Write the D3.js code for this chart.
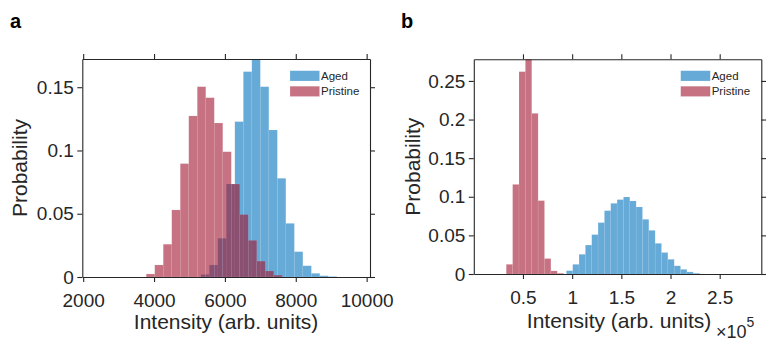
<!DOCTYPE html>
<html><head><meta charset="utf-8">
<script src="https://cdn.jsdelivr.net/npm/d3@7"></script>
<style>
body{margin:0;background:#fff;}
svg{display:block;font-family:"Liberation Sans",Arial,Helvetica,sans-serif;}
</style>
</head><body>
<svg id="chart" width="766" height="341"></svg>
<script>
// ---------- data ----------
const seriesNames = ["Aged", "Pristine"];

// Panel a : probability per bin
const agedAStart = 5320, agedABin = 240;
const agedA = [0.002, 0.0095, 0.0306, 0.0735, 0.1228, 0.1623, 0.1723, 0.1504,
               0.1162, 0.078, 0.0424, 0.02, 0.0089, 0.0029, 0.001, 0.0004];
const pristineAStart = 3780, pristineABin = 240;
const pristineA = [0.0024, 0.0095, 0.0259, 0.053, 0.0896, 0.1273, 0.1504, 0.1417,
                   0.1217, 0.099, 0.0735, 0.0494, 0.029, 0.0126, 0.0048, 0.0015];
const xTicksA = [2000, 4000, 6000, 8000, 10000];
const yTicksA = [0, 0.05, 0.1, 0.15];
const yTickLabelsA = ["0", "0.05", "0.1", "0.15"];

// Panel b
const agedBStart = 94100, agedBBin = 6450;
const agedB = [0.0043, 0.0125, 0.0255, 0.0375, 0.051, 0.0665, 0.082, 0.0915, 0.0963,
               0.0997, 0.0946, 0.0868, 0.0708, 0.0565, 0.0397, 0.0278, 0.019, 0.0106,
               0.006, 0.0027, 0.001];
const pristineBStart = 33000, pristineBBin = 6480;
const pristineB = [0.0125, 0.116, 0.262, 0.278, 0.208, 0.095, 0.020, 0.004, 0.001];
const xTicksB = [50000, 100000, 150000, 200000, 250000];
const xTickLabelsB = ["0.5", "1", "1.5", "2", "2.5"];
const yTicksB = [0, 0.05, 0.1, 0.15, 0.2, 0.25];
const yTickLabelsB = ["0", "0.05", "0.1", "0.15", "0.2", "0.25"];

// ---------- styles ----------
const colors = {Aged: "rgb(0,114,189)", Pristine: "rgb(162,20,47)"};
const ink = "#262626";

const svg = d3.select("#chart");

function toBins(start, w, vals) {
  return vals.map((v, i) => ({x0: start + i * w, x1: start + (i + 1) * w, p: v}));
}

const panels = [
  {
    letter: "a", letterX: 10,
    box: {l: 82.3, r: 370, t: 59, b: 277},
    xDomain: [1975, 10095], yDomain: [0, 0.1723],
    series: [
      {name: "Aged", bins: toBins(agedAStart, agedABin, agedA)},
      {name: "Pristine", bins: toBins(pristineAStart, pristineABin, pristineA)}
    ],
    xTicks: xTicksA, xFmt: d => String(d),
    yTicks: yTicksA, yFmt: (d, i) => yTickLabelsA[i],
    xLabelX: 226, xLabelY: 329, yLabelX: 27,
    legendX: 290, exponent: false
  },
  {
    letter: "b", letterX: 401,
    box: {l: 473.8, r: 761.3, t: 59.3, b: 274},
    xDomain: [0, 292300], yDomain: [0, 0.278],
    series: [
      {name: "Aged", bins: toBins(agedBStart, agedBBin, agedB)},
      {name: "Pristine", bins: toBins(pristineBStart, pristineBBin, pristineB)}
    ],
    xTicks: xTicksB, xFmt: (d, i) => xTickLabelsB[i],
    yTicks: yTicksB, yFmt: (d, i) => yTickLabelsB[i],
    xLabelX: 619, xLabelY: 328, yLabelX: 420,
    legendX: 680.7, exponent: true
  }
];

panels.forEach(P => {
  const {l, r, t, b} = P.box;
  const x = d3.scaleLinear().domain(P.xDomain).range([l, r]);
  const y = d3.scaleLinear().domain(P.yDomain).range([b, t]);
  const g = svg.append("g");

  // bars
  P.series.forEach(s => {
    g.append("g").selectAll("rect").data(s.bins).join("rect")
      .attr("x", d => x(d.x0))
      .attr("width", d => x(d.x1) - x(d.x0))
      .attr("y", d => y(Math.min(d.p, P.yDomain[1])))
      .attr("height", d => y(0) - y(Math.min(d.p, P.yDomain[1])))
      .attr("fill", colors[s.name]).attr("fill-opacity", 0.6)
      .attr("stroke", "#fff").attr("stroke-opacity", 0.18).attr("stroke-width", 0.5);
  });

  // axes (ticks outward on all sides)
  const styleAxis = sel => {
    sel.selectAll("path.domain").attr("stroke", ink).attr("stroke-width", 1.1);
    sel.selectAll(".tick line").attr("stroke", ink).attr("stroke-width", 1.1);
    sel.selectAll("text").attr("fill", ink).attr("font-size", 19)
      .attr("font-family", '"Liberation Sans",Arial,sans-serif');
  };
  g.append("g").attr("transform", `translate(0,${b})`)
    .call(d3.axisBottom(x).tickValues(P.xTicks).tickFormat(P.xFmt).tickSize(5).tickPadding(12).tickSizeOuter(0))
    .call(styleAxis);
  g.append("g").attr("transform", `translate(0,${t})`)
    .call(d3.axisTop(x).tickValues(P.xTicks).tickFormat("").tickSize(5).tickSizeOuter(0))
    .call(styleAxis);
  g.append("g").attr("transform", `translate(${l},0)`)
    .call(d3.axisLeft(y).tickValues(P.yTicks).tickFormat(P.yFmt).tickSize(5).tickPadding(3.5).tickSizeOuter(0))
    .call(styleAxis);
  g.append("g").attr("transform", `translate(${r},0)`)
    .call(d3.axisRight(y).tickValues(P.yTicks).tickFormat("").tickSize(5).tickSizeOuter(0))
    .call(styleAxis);

  // axis labels
  g.append("text").attr("x", P.xLabelX).attr("y", P.xLabelY)
    .attr("text-anchor", "middle").attr("font-size", 21).attr("fill", ink)
    .text("Intensity (arb. units)");
  g.append("text")
    .attr("transform", `translate(${P.yLabelX},${(t + b) / 2}) rotate(-90)`)
    .attr("text-anchor", "middle").attr("font-size", 21).attr("fill", ink)
    .text("Probability");

  if (P.exponent) {
    const ex = g.append("text").attr("x", 716).attr("y", 338).attr("fill", ink);
    ex.append("tspan").attr("font-size", 18).text("\u00D710");
    ex.append("tspan").attr("font-size", 14).attr("dy", -11).text("5");
  }

  // panel letter
  svg.append("text").attr("x", P.letterX).attr("y", 28)
    .attr("font-weight", "bold").attr("font-size", 20).attr("fill", "#000")
    .text(P.letter);

  // legend
  const lg = g.append("g");
  seriesNames.forEach((name, i) => {
    const yy = 70.7 + i * 15.5;
    lg.append("rect").attr("x", P.legendX).attr("y", yy).attr("width", 29.6).attr("height", 10.3)
      .attr("fill", colors[name]).attr("fill-opacity", 0.6)
      .attr("stroke", "#fff").attr("stroke-opacity", 0.3).attr("stroke-width", 0.6);
    lg.append("text").attr("x", P.legendX + 31).attr("y", yy + 9)
      .attr("font-size", 11.5).attr("fill", ink).text(name);
  });
});
</script>
</body></html>
